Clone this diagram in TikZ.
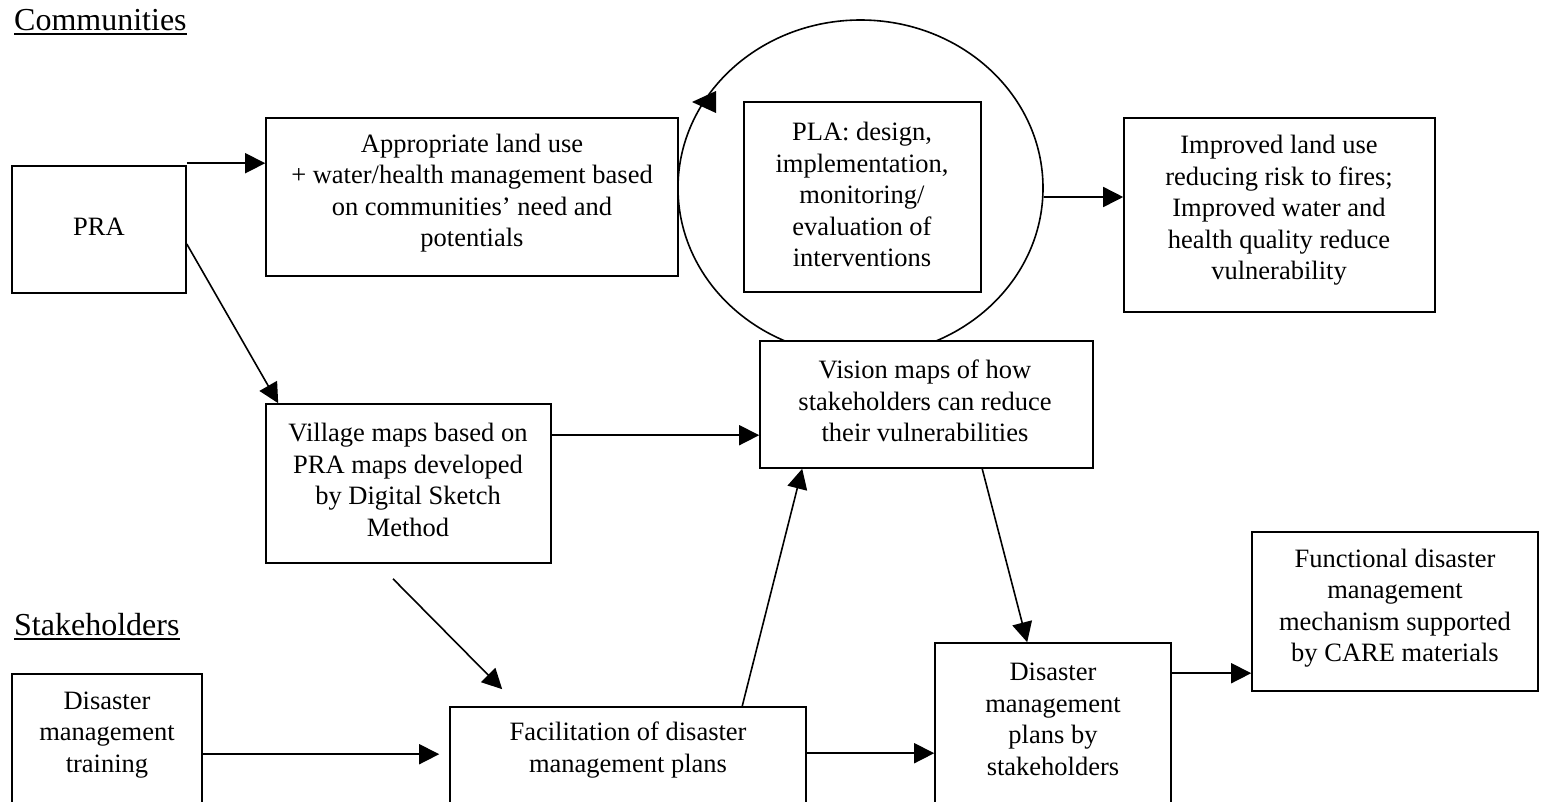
\documentclass[tikz,border=0pt]{standalone}
\usepackage{fontspec}
\setmainfont{Liberation Serif}
\usetikzlibrary{arrows.meta,shapes.geometric,calc}
\begin{document}
\begin{tikzpicture}[x=1pt,y=-1pt,
  box/.style={draw, line width=1.6pt, fill=white, rectangle, inner sep=0pt},
  txt/.style={align=center, font=\fontsize{26.5}{31.5}\selectfont, inner sep=0pt},
  lbl/.style={font=\fontsize{32}{38}\selectfont, inner sep=0pt, anchor=base west},
  uline/.style={line width=1.8pt},
  arr/.style={line width=1.6pt, -{Triangle[length=20pt,width=20pt]}},
  tipfill/.style={fill=black}]
\useasboundingbox (0,0) rectangle (1541,801);
\clip (0,0) rectangle (1541,801);

% section labels
\node[lbl] (comm) at (14,30) {Communities};
\draw[uline] ([yshift=-4pt]comm.base west) -- ([yshift=-4pt]comm.base east);
\node[lbl] (stake) at (14,635) {Stakeholders};
\draw[uline] ([yshift=-4pt]stake.base west) -- ([yshift=-4pt]stake.base east);

% PLA cycle
\node[draw, ellipse, line width=1.6pt, minimum width=365pt, minimum height=336pt, inner sep=0pt] (cyc) at (860.5,188) {};
\fill[tipfill] (692,102) -- (716,91) -- (716,113) -- cycle;

% boxes
\node[box, minimum width=174pt, minimum height=127pt] (pra) at (99,229.5) {};
\node[txt] (pratxt) at (99,227) {PRA};

\node[box, minimum width=412pt, minimum height=158pt] (approp) at (472,197) {};
\node[txt] (approptxt) at (472,193) {Appropriate land use\\+ water/health management based\\on communities’ need and\\potentials};

\node[box, minimum width=237pt, minimum height=190pt] (pla) at (862.5,197) {};
\node[txt] (platxt) at (862,194.5) {PLA: design,\\implementation,\\monitoring/\\evaluation of\\interventions};

\node[box, minimum width=311pt, minimum height=194pt] (improved) at (1279.5,215) {};
\node[txt] (improvedtxt) at (1279,210.5) {Improved land use\\reducing risk to fires;\\Improved water and\\health quality reduce\\vulnerability};

\node[box, minimum width=285pt, minimum height=159pt] (village) at (408.5,483.5) {};
\node[txt] (villagetxt) at (408,480) {Village maps based on\\PRA maps developed\\by Digital Sketch\\Method};

\node[box, minimum width=333pt, minimum height=127pt] (vision) at (926.5,404.5) {};
\node[txt] (visiontxt) at (925,401) {Vision maps of how\\stakeholders can reduce\\their vulnerabilities};

\node[box, minimum width=190pt, minimum height=156pt] (train) at (107,752) {};
\node[txt] (traintxt) at (107,735) {Disaster\\management\\training};

\node[box, minimum width=356pt, minimum height=123pt] (facil) at (628,768.5) {};
\node[txt] (faciltxt) at (628,750) {Facilitation of disaster\\management plans};

\node[box, minimum width=236pt, minimum height=187pt] (dm) at (1053,736.5) {};
\node[txt] (dmtxt) at (1053,719.5) {Disaster\\management\\plans by\\stakeholders};

\node[box, minimum width=286pt, minimum height=159pt] (func) at (1395,611.5) {};
\node[txt] (functxt) at (1395,608) {Functional disaster\\management\\mechanism supported\\by CARE materials};

% connectors
\draw[arr] ([yshift=2pt]pra.north east) -- ([yshift=2pt]pra.north east -| approp.west);
\draw[arr] ([yshift=-14.5pt]pra.east) -- ([xshift=13pt]village.north west);
\draw[arr] ([yshift=-9pt]cyc.east) -- ([yshift=-9pt]cyc.east -| improved.west);
\draw[arr] ([yshift=-32pt]village.north east) -- ([yshift=-32pt]village.north east -| vision.west);
\coordinate (vstart) at ([xshift=-15.5pt,yshift=-15pt]village.south);
\draw[arr] (vstart) -- ([xshift=53pt,yshift=17pt]facil.north west);
\draw[arr] ([yshift=-81pt]train.north east) -- ([yshift=-81pt,xshift=-10pt]train.north east -| facil.west);
\draw[arr] ([xshift=293pt]facil.north west) -- ([xshift=43pt]vision.south west);
\draw[arr] ([xshift=223pt]vision.south west) -- ([xshift=93pt]dm.north west);
\draw[arr] ([yshift=-47pt]facil.north east) -- ([yshift=-47pt]facil.north east -| dm.west);
\draw[arr] ([yshift=-31pt]dm.north east) -- ([yshift=-31pt]dm.north east -| func.west);
\end{tikzpicture}
\end{document}
